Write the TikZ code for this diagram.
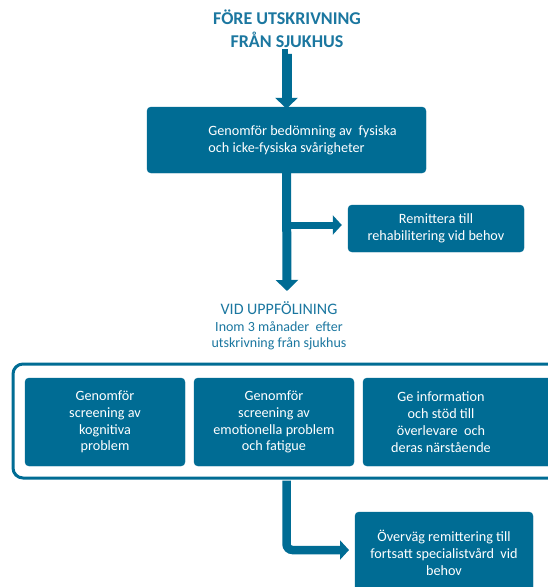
\documentclass[tikz,border=0pt]{standalone}
\usepackage{fontspec}
\setmainfont{Carlito}
\usetikzlibrary{arrows.meta}
\definecolor{boxblue}{HTML}{006C94}
\definecolor{txtblue}{HTML}{1B77A0}
\tikzset{
  bluebox/.style={fill=boxblue, draw=boxblue, rounded corners=4pt, inner sep=0pt},
  boxtext/.style={text=white, font=\fontsize{14.2}{16.8}\selectfont, align=center, inner sep=0pt},
  conn/.style={draw=boxblue, line width=9pt},
  bigtip/.style={-{Triangle[width=22pt,length=11pt]}},
  smalltip/.style={-{Triangle[width=19pt,length=9pt]}},
}
\begin{document}
\begin{tikzpicture}[x=1pt,y=-1pt]
\clip (0,0) rectangle (548,587);
\fill[white] (0,0) rectangle (548,587);
% title
\node[text=txtblue, font=\fontsize{18}{23}\selectfont\bfseries, align=center, inner sep=0pt] (title) at (287,29) {FÖRE UTSKRIVNING\\FRÅN SJUKHUS};
% box 1
\node[bluebox, minimum width=279pt, minimum height=66pt] (box1) at (286.5,140) {};
\node[boxtext, align=left] (box1t) at (302.5,140) {Genomför bedömning av\ \ fysiska\\och icke-fysiska svårigheter};
\draw[conn, line width=10pt, bigtip] (title.south) ++(0,6) coordinate (a1s) -- (box1.north |- a1s) -- ([yshift=-2pt]box1.north);
% remit box
\node[bluebox, minimum width=176pt, minimum height=47pt] (remit) at (436,228.5) {};
\node[boxtext] (remitt) at (remit) {Remittera till\\rehabilitering vid behov};
% follow-up text
\node[text=txtblue, align=center, inner sep=0pt, font=\fontsize{14}{16.5}\selectfont] (follow) at (279,326) {{\fontsize{16}{19}\selectfont VID UPPFÖLINING}\\Inom 3 månader\ \ efter\\utskrivning från sjukhus};
\coordinate (arr2) at (287,291);
\draw[conn, bigtip] (box1.south) -- (arr2);
\coordinate (br) at (287,225);
\draw[conn, line width=7pt, smalltip, shorten >=6pt] (br) -- (remit.west |- br);
% outer frame
\node[draw=boxblue, line width=3pt, fill=white, rounded corners=10pt, minimum width=547pt, minimum height=114pt, inner sep=0pt] (outer) at (286.5,421) {};
\node[bluebox, minimum width=160pt, minimum height=88pt] (bA) at (105,422) {};
\node[boxtext] (bAt) at (bA) {Genomför\\screening av\\kognitiva\\problem};
\node[bluebox, minimum width=160pt, minimum height=88pt] (bB) at (274,422) {};
\node[boxtext] (bBt) at (bB) {Genomför\\screening av\\emotionella problem\\och fatigue};
\node[bluebox, minimum width=197pt, minimum height=88pt] (bC) at (461.5,422) {};
\node[boxtext] (bCt) at (441,422) {Ge information\\och stöd till\\överlevare\ \ och\\deras närstående};
% bottom box
\node[bluebox, minimum width=178pt, minimum height=88pt] (bD) at (444,556) {};
\node[boxtext] (bDt) at (444,553) {Överväg remittering till\\fortsatt specialistvård\ \ vid\\behov};
\coordinate (jD) at (349,550);
\draw[conn, smalltip, rounded corners=6pt, line width=8.5pt] ([yshift=-1pt]outer.south) |- (jD);
\end{tikzpicture}
\end{document}
